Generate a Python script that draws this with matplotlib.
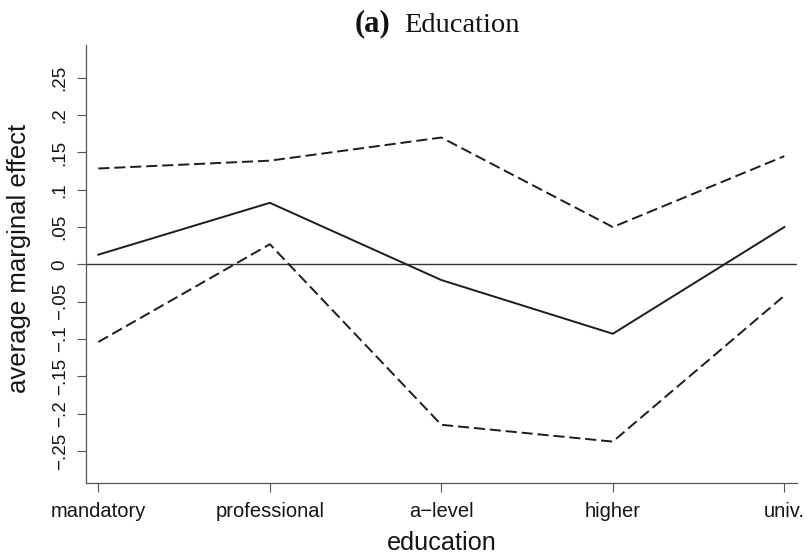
import matplotlib
matplotlib.use("Agg")
import matplotlib.pyplot as plt

# Average marginal effect of education with confidence bounds
categories = ["mandatory", "professional", "a\u2212level", "higher", "univ."]
effect = [0.013, 0.0825, -0.021, -0.093, 0.050]
upper = [0.1285, 0.139, 0.170, 0.050, 0.145]
lower = [-0.104, 0.027, -0.215, -0.2375, -0.042]
ytick_vals = [-0.25, -0.2, -0.15, -0.1, -0.05, 0, 0.05, 0.1, 0.15, 0.2, 0.25]
ytick_labels = ["\u2212.25", "\u2212.2", "\u2212.15", "\u2212.1", "\u2212.05", "0",
                ".05", ".1", ".15", ".2", ".25"]

plt.rcParams["font.family"] = ["Liberation Sans", "DejaVu Sans"]
plt.rcParams["lines.scale_dashes"] = False

W, H = 807, 554
fig = plt.figure(figsize=(W / 100, H / 100), dpi=100)
ax = fig.add_axes([86 / W, 1 - 483 / H, (797 - 86) / W, (483 - 45) / H])

x = list(range(len(categories)))
line_col = "#1c1c1c"
ax.axhline(0, color="#333333", lw=1.0, zorder=1)
ax.plot(x, effect, color=line_col, lw=1.4, solid_joinstyle="miter")
ax.plot(x, upper, color=line_col, lw=1.4, dashes=(8, 3.5))
ax.plot(x, lower, color=line_col, lw=1.4, dashes=(8, 3.5))

ax.set_xlim(-0.072, 4.074)
ax.set_ylim(-0.293, 0.294)

ax.set_xticks(x)
ax.set_xticklabels(categories, fontsize=14.5, color="#151515")
ax.set_yticks(ytick_vals)
ax.set_yticklabels(ytick_labels, fontsize=13.5, rotation=90, va="center",
                   color="#151515")
ax.tick_params(axis="both", direction="out", length=6.5, width=0.8,
               color="#555555")
ax.tick_params(axis="x", pad=7)
ax.tick_params(axis="y", pad=6)

for side in ("top", "right"):
    ax.spines[side].set_visible(False)
for side in ("left", "bottom"):
    ax.spines[side].set_color("#555555")
    ax.spines[side].set_linewidth(0.9)

# Axis titles
fig.text(441.7 / W, 1 - 549.5 / H, "education", fontsize=18.2,
         ha="center", va="baseline", color="#151515")
fig.text(19 / W, 1 - 258.5 / H, "average marginal effect", fontsize=18.5,
         rotation=90, ha="center", va="center", color="#151515")

# Panel title in serif with bold label
fig.text(355 / W, 1 - 31.7 / H, "(a)", fontsize=22, fontweight="bold",
         family="Liberation Serif", ha="left", va="baseline", color="#111111")
fig.text(404 / W, 1 - 31.7 / H, "Education", fontsize=20.5,
         family="Liberation Serif", ha="left", va="baseline", color="#111111")

fig.savefig("out.png", dpi=100)
